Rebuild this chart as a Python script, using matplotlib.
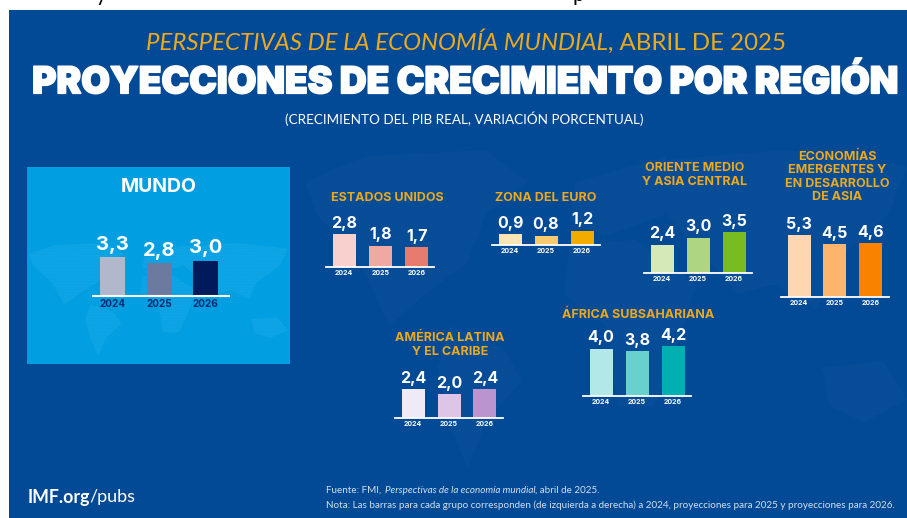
import matplotlib
matplotlib.use('Agg')
import matplotlib.pyplot as plt
from matplotlib.patches import Rectangle, Polygon
import matplotlib.patheffects as pe

W, H = 907, 518
BLUE = '#034a96'
GOLD = '#eda91e'
NAVY = '#0b2a6f'
NOTE = '#d3deec'
HEAVY = 'Inter'

years = ['2024', '2025', '2026']

mundo = [3.3, 2.8, 3.0]
estados_unidos = [2.8, 1.8, 1.7]
zona_euro = [0.9, 0.8, 1.2]
oriente_medio = [2.4, 3.0, 3.5]
asia = [5.3, 4.5, 4.6]
america_latina = [2.4, 2.0, 2.4]
africa = [4.0, 3.8, 4.2]

mundo_colors = ['#b1b8cc', '#6d7a9f', '#001a5b']
eeuu_colors = ['#f8d1ce', '#f0a9a2', '#e87b6f']
euro_colors = ['#fce4b4', '#f9c96e', '#f4ab00']
oriente_colors = ['#d5e8b8', '#aed581', '#77bc21']
asia_colors = ['#fed7b2', '#fdb56e', '#f98300']
latam_colors = ['#eeebf6', '#dcc5e7', '#b994cf']
africa_colors = ['#b3e8e9', '#68d1cd', '#00afb2']

# continentes muy simplificados, solo decoracion de fondo (0-1)
continents = [
    [(0, .1), (.1, .02), (.3, 0), (.37, .1), (.3, .2), (.27, .35), (.2, .45), (.14, .55), (.09, .35), (.02, .2)],
    [(.24, .55), (.33, .62), (.36, .72), (.3, .85), (.27, 1), (.24, .85), (.22, .68)],
    [(.45, .1), (.6, .02), (.6, .2), (.5, .27), (.44, .22)],
    [(.44, .3), (.55, .28), (.65, .42), (.62, .6), (.58, .8), (.52, .8), (.5, .55), (.43, .45)],
    [(.6, .03), (.8, 0), (1, .05), (.97, .2), (.88, .35), (.85, .5), (.78, .42), (.72, .45), (.65, .3), (.6, .2)],
    [(.86, .68), (.96, .66), (1, .78), (.93, .85), (.87, .8)],
]

plt.rcParams['font.family'] = ['Lato', 'DejaVu Sans']
plt.rcParams['hatch.linewidth'] = 0.5

fig = plt.figure(figsize=(W / 100, H / 100), dpi=100, facecolor='white')

# fondo en pixeles
bg = fig.add_axes([0, 0, 1, 1])
bg.set_xlim(0, W)
bg.set_ylim(H, 0)
bg.axis('off')
bg.add_patch(Rectangle((9, 10), W - 9, H - 10, color=BLUE, lw=0))


def draw_map(x, y, w, h, alpha):
    for c in continents:
        pts = [(x + px * w, y + py * h) for px, py in c]
        bg.add_patch(Polygon(pts, closed=True, facecolor=(1, 1, 1, alpha), edgecolor=(1, 1, 1, alpha),
                             lw=0, hatch='......'))


draw_map(305, 150, 602, 320, 0.015)
bg.add_patch(Rectangle((27, 167), 263, 197, color='#019fe2', lw=0))
draw_map(28, 243, 260, 112, 0.045)

# restos del texto cortado arriba
bg.text(101, 1, 'y', color='black', fontsize=15, ha='center', va='baseline')
bg.text(578, 1, 'p', color='black', fontsize=15, ha='center', va='baseline')


def runs(x, y, parts, **kw):
    # varios trozos de texto seguidos en la misma linea
    r = fig.canvas.get_renderer()
    for s, style in parts:
        t = bg.text(x, y, s, style=style, ha='left', va='baseline', **kw)
        x += t.get_window_extent(r).width
        if s.endswith(' '):
            x += 1


# titulos
runs(146, 50, [('PERSPECTIVAS DE LA ECONOMÍA MUNDIAL', 'italic'), (', ABRIL DE 2025', 'normal')],
     color=GOLD, fontsize=17.3)
title = bg.text(465, 83, 'PROYECCIONES DE CRECIMIENTO POR REGIÓN', color='white', fontsize=26.7,
                family=HEAVY, weight='black', ha='center', va='center')
title.set_path_effects([pe.withStroke(linewidth=1.2, foreground='white')])
bg.text(464, 119, '(CRECIMIENTO DEL PIB REAL, VARIACIÓN PORCENTUAL)', color='white', fontsize=9.7,
        ha='center', va='center')

# notas
runs(326, 493, [('Fuente: FMI, ', 'normal'), ('Perspectivas de la economía mundial', 'italic'),
                (', abril de 2025.', 'normal')], color=NOTE, fontsize=7.1)
bg.text(326, 508, 'Nota: Las barras para cada grupo corresponden (de izquierda a derecha) a 2024, '
        'proyecciones para 2025 y proyecciones para 2026.', color=NOTE, fontsize=7.13,
        ha='left', va='baseline')
bg.text(28, 497, 'IMF.org', color='white', fontsize=12.8, weight='bold', ha='left', va='center')
bg.text(89, 497, '/pubs', color='white', fontsize=13, ha='left', va='center')

# titulos de region
head = dict(color=GOLD, fontsize=9, family=HEAVY, weight='bold', ha='center', va='center', linespacing=1.15)
bg.text(159, 187, 'MUNDO', color='white', fontsize=14, family=HEAVY, weight='bold', ha='center', va='center')
bg.text(387, 198, 'ESTADOS UNIDOS', **head)
bg.text(546, 198, 'ZONA DEL EURO', **head)
bg.text(695, 175, 'ORIENTE MEDIO\nY ASIA CENTRAL', **head)
bg.text(837, 177, 'ECONOMÍAS\nEMERGENTES Y\nEN DESARROLLO\nDE ASIA', **head)
bg.text(450, 345, 'AMÉRICA LATINA\nY EL CARIBE', **head)
bg.text(638, 315, 'ÁFRICA SUBSAHARIANA', **head)


def panel(values, colors, x0, x1, c0, step, base, bar_w, val_size=11.5, year_size=5, year_color='white',
          lw=1.3):
    # un eje por region, con 11.7 px por punto porcentual
    h = 90
    ax = fig.add_axes([x0 / W, (H - base) / H, (x1 - x0) / W, h / H])
    ax.patch.set_alpha(0)
    bars = ax.bar(range(3), values, width=bar_w / step, color=colors)
    ax.set_xlim((x0 - c0) / step, (x1 - c0) / step)
    ax.set_ylim(0, h / 11.7)
    ax.set_xticks(range(3))
    ax.set_xticklabels(years, fontsize=year_size, color=year_color, weight='bold', family=HEAVY)
    ax.set_yticks([])
    ax.tick_params(axis='x', length=0, pad=2.2)
    for s in ['top', 'left', 'right']:
        ax.spines[s].set_visible(False)
    ax.spines['bottom'].set_color('white')
    ax.spines['bottom'].set_linewidth(lw)
    labels = [str(v).replace('.', ',') for v in values]
    ax.bar_label(bars, labels=labels, fontsize=val_size, color='white', weight='bold', family=HEAVY, padding=2.5)
    return ax


panel(mundo, mundo_colors, 93, 229, 112.5, 46.7, 296, 25, val_size=14.5, year_size=7.2, year_color=NAVY, lw=1.5)
panel(estados_unidos, eeuu_colors, 326, 434, 344, 36.3, 267, 23)
panel(zona_euro, euro_colors, 492, 600, 510, 36, 245, 23)
panel(oriente_medio, oriente_colors, 644, 752, 662, 36, 273, 23)
panel(asia, asia_colors, 781, 889, 799, 35.8, 297, 23)
panel(america_latina, latam_colors, 395, 503, 413, 36, 417.5, 23)
panel(africa, africa_colors, 583, 691, 601, 36, 395.5, 23)

fig.savefig('out.png', dpi=100)
